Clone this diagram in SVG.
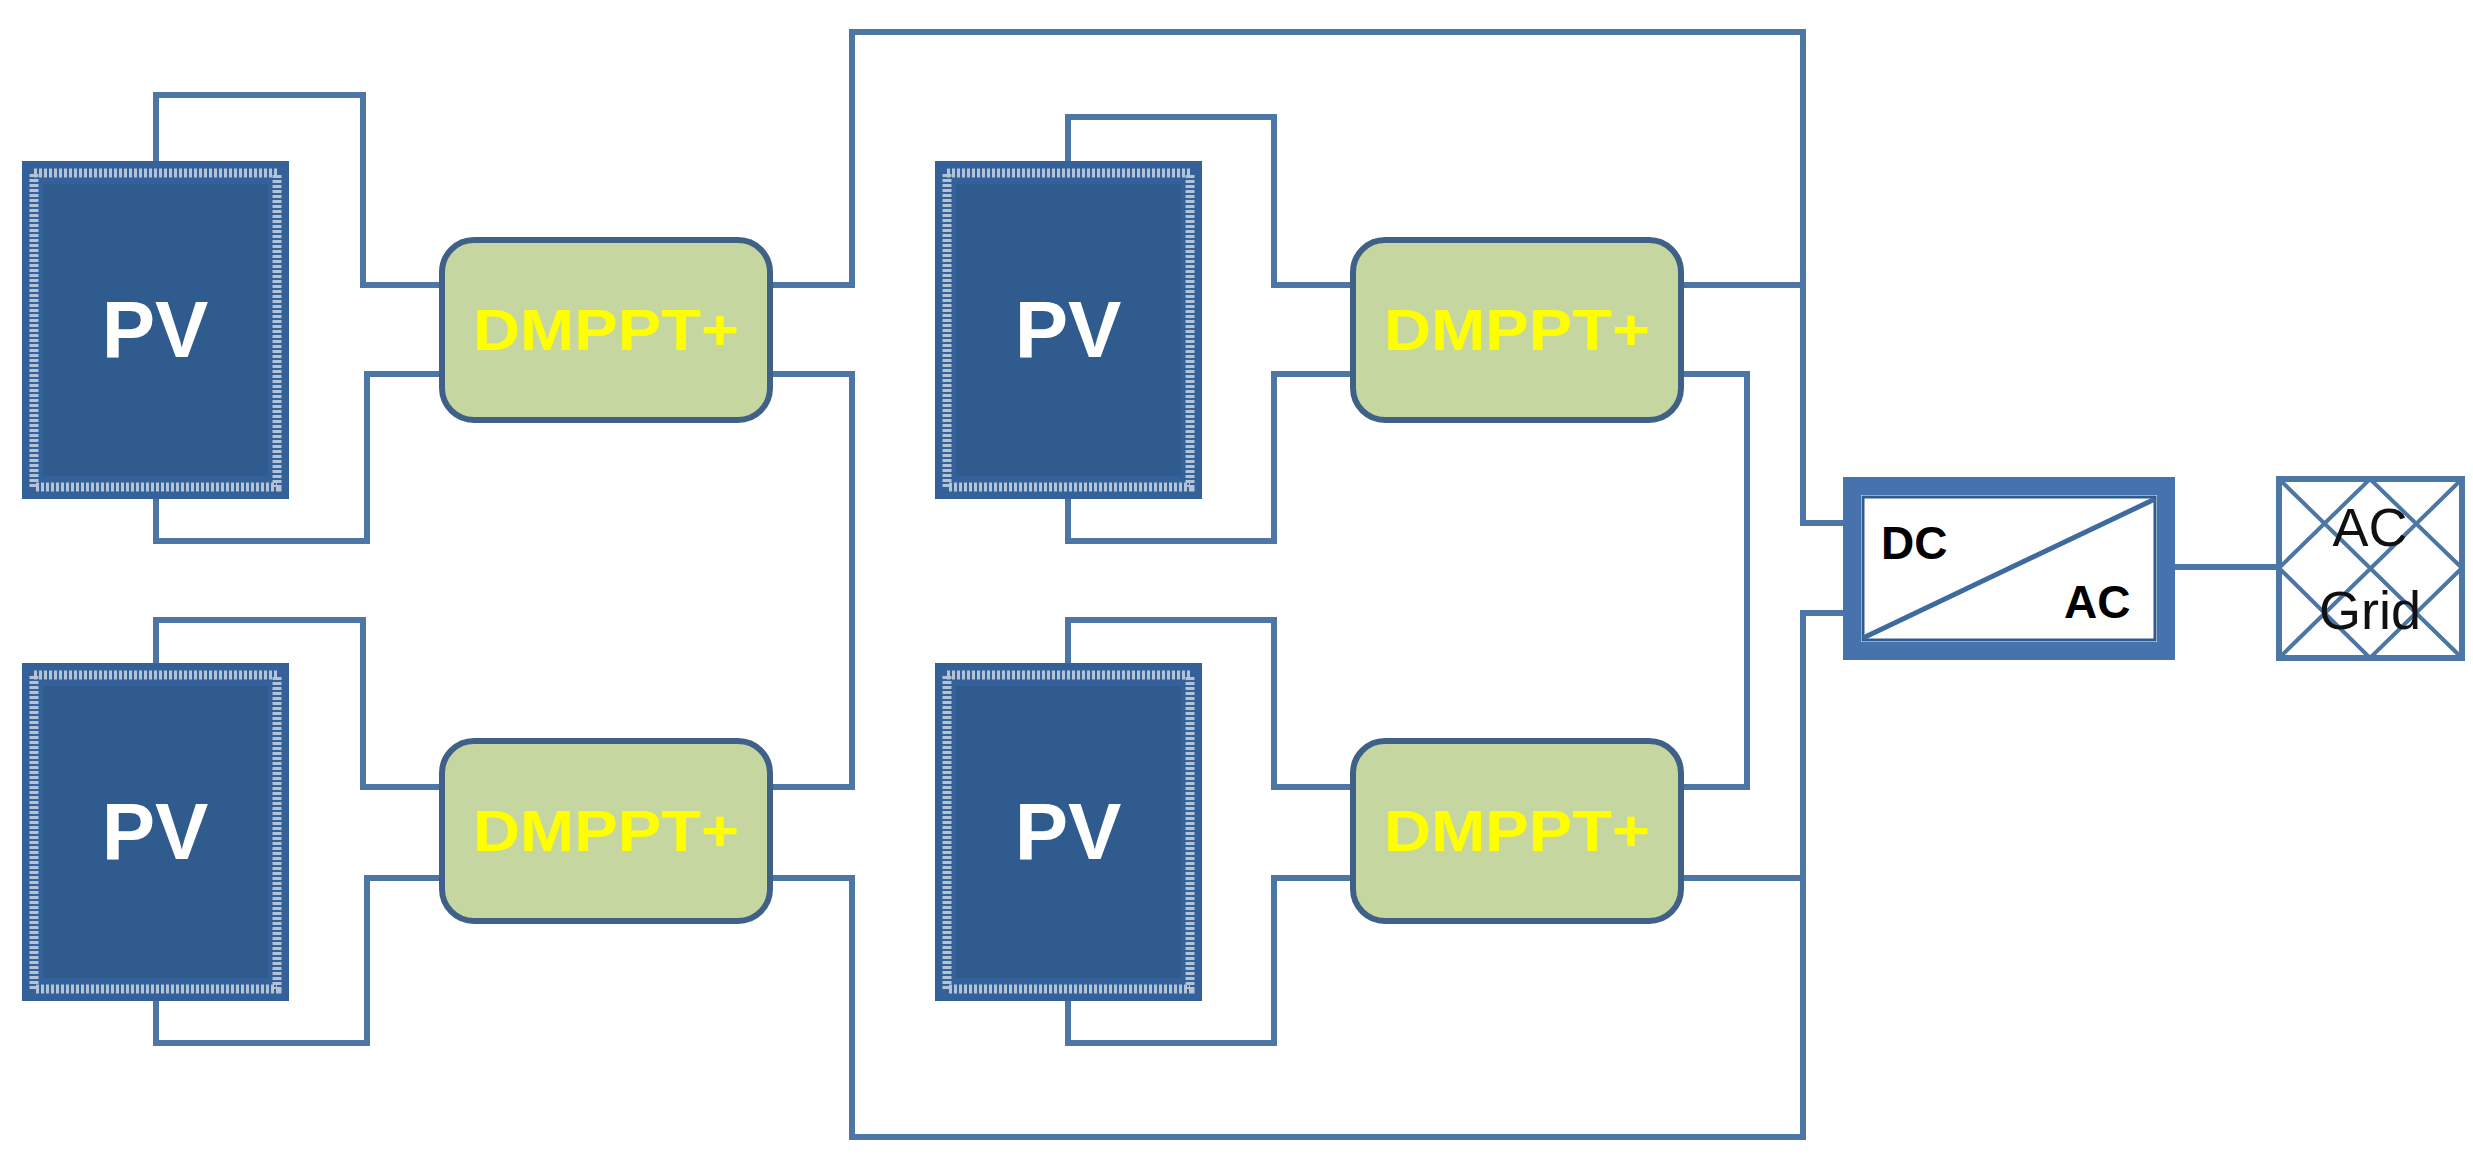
<svg xmlns="http://www.w3.org/2000/svg" width="2473" height="1174" viewBox="0 0 2473 1174">
<style>
.w{fill:none;stroke:#4B76A6;stroke-width:6}
.pvo{fill:#34619A}
.pvb{fill:none;stroke:#B4C3D6;stroke-width:9;stroke-dasharray:3 2}
.pvi{fill:#2F5B8E}
.pvt{font-family:"Liberation Sans",Arial,sans-serif;font-weight:bold;font-size:80px;fill:#fff;text-anchor:middle}
.dm{fill:#C5D6A0;stroke:#3F6187;stroke-width:6}
.dmt{font-family:"Liberation Sans",Arial,sans-serif;font-weight:bold;font-size:58px;fill:#FFFF00;text-anchor:middle}
.bt{font-family:"Liberation Sans",Arial,sans-serif;font-weight:bold;font-size:46px;fill:#000}
.gt{font-family:"Liberation Sans",Arial,sans-serif;font-size:54px;fill:#111;text-anchor:middle}
</style>
<rect width="2473" height="1174" fill="#fff"/>
<g id="connectors">
<path class="w" d="M156 161V95H363V285H442"/>
<path class="w" d="M156 498V541H367V374H442"/>
<path class="w" d="M156 663V620H363V787H442"/>
<path class="w" d="M156 1000V1043H367V878H442"/>
<path class="w" d="M1068 161V117H1274V285H1353"/>
<path class="w" d="M1068 498V541H1274V374H1353"/>
<path class="w" d="M1068 663V620H1274V787H1353"/>
<path class="w" d="M1068 1000V1043H1274V878H1353"/>
<path class="w" d="M770 285H852V32H1803V523H1844"/>
<path class="w" d="M770 374H852V787H770"/>
<path class="w" d="M770 878H852V1137H1803V613H1844"/>
<path class="w" d="M1681 285H1803"/>
<path class="w" d="M1681 374H1747V787H1681"/>
<path class="w" d="M1681 878H1803"/>
<path class="w" d="M2175 567H2277"/>
</g>
<g id="pv1"><rect class="pvo" x="22" y="161" width="267" height="338"/><rect class="pvb" x="34" y="173" width="243" height="314"/><rect class="pvi" x="43" y="184" width="225" height="292"/><text class="pvt" x="155" y="357">PV</text></g>
<g id="pv2"><rect class="pvo" x="22" y="663" width="267" height="338"/><rect class="pvb" x="34" y="675" width="243" height="314"/><rect class="pvi" x="43" y="686" width="225" height="292"/><text class="pvt" x="155" y="859">PV</text></g>
<g id="pv3"><rect class="pvo" x="935" y="161" width="267" height="338"/><rect class="pvb" x="947" y="173" width="243" height="314"/><rect class="pvi" x="956" y="184" width="225" height="292"/><text class="pvt" x="1068" y="357">PV</text></g>
<g id="pv4"><rect class="pvo" x="935" y="663" width="267" height="338"/><rect class="pvb" x="947" y="675" width="243" height="314"/><rect class="pvi" x="956" y="686" width="225" height="292"/><text class="pvt" x="1068" y="859">PV</text></g>
<g id="dmppt1"><rect class="dm" x="442" y="240" width="328" height="180" rx="32"/><text class="dmt" x="606" y="350" textLength="266" lengthAdjust="spacingAndGlyphs">DMPPT+</text></g>
<g id="dmppt2"><rect class="dm" x="442" y="741" width="328" height="180" rx="32"/><text class="dmt" x="606" y="851" textLength="266" lengthAdjust="spacingAndGlyphs">DMPPT+</text></g>
<g id="dmppt3"><rect class="dm" x="1353" y="240" width="328" height="180" rx="32"/><text class="dmt" x="1517" y="350" textLength="266" lengthAdjust="spacingAndGlyphs">DMPPT+</text></g>
<g id="dmppt4"><rect class="dm" x="1353" y="741" width="328" height="180" rx="32"/><text class="dmt" x="1517" y="851" textLength="266" lengthAdjust="spacingAndGlyphs">DMPPT+</text></g>
<g id="inverter">
<rect x="1852" y="486" width="314" height="165" fill="#fff" stroke="#4673AE" stroke-width="18"/>
<rect x="1863" y="497" width="292" height="143" fill="none" stroke="#2F5B8E" stroke-width="3"/>
<line x1="1863" y1="638" x2="2155" y2="499" stroke="#3F6A9E" stroke-width="5"/>
<text class="bt" x="1881" y="559">DC</text>
<text class="bt" x="2064" y="618">AC</text>
</g>
<g id="acgrid">
<rect x="2279" y="479" width="183" height="179" fill="#fff" stroke="#4B76A6" stroke-width="6"/>
<path d="M2279 479L2462 658M2462 479L2279 658M2370 479L2462 568L2370 658L2279 568Z" fill="none" stroke="#4B76A6" stroke-width="4"/>
<text class="gt" x="2370" y="546">AC</text>
<text class="gt" x="2370" y="629">Grid</text>
</g>
</svg>
